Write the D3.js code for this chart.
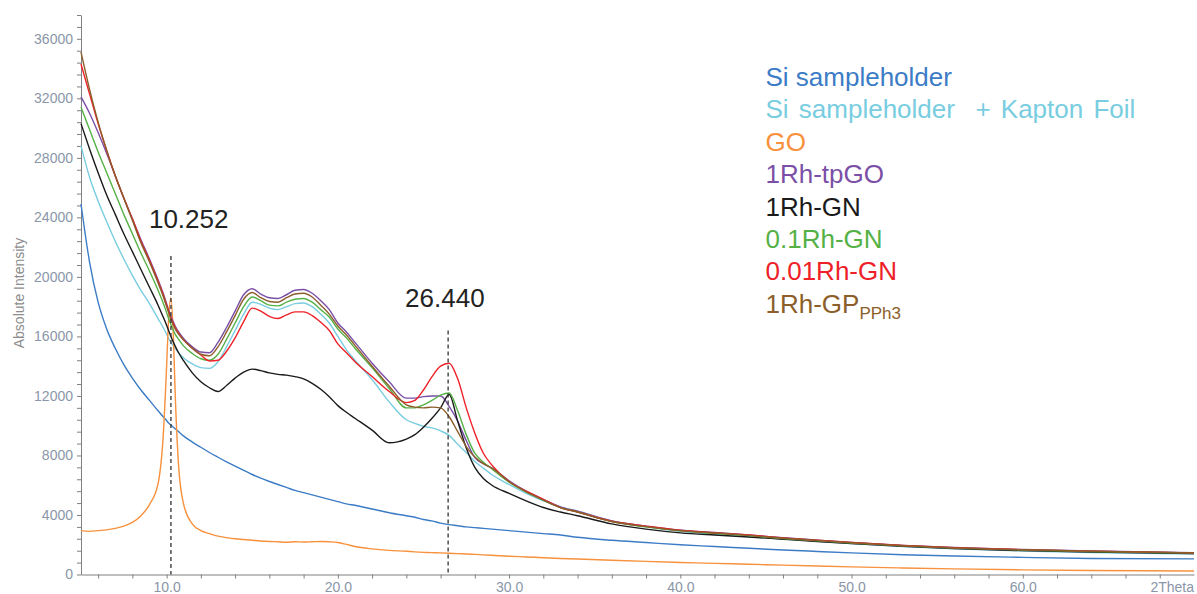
<!DOCTYPE html>
<html>
<head>
<meta charset="utf-8">
<script src="https://cdn.jsdelivr.net/npm/d3@7"></script>
<style>
  body { margin: 0; background: #fff; }
  svg { display: block; font-family: "Liberation Sans", Arial, sans-serif; }
</style>
</head>
<body>
<div id="my_dataviz"></div>
<script>
const twoTheta = [5, 5.5, 6, 6.5, 7, 7.5, 8, 8.5, 9, 9.5,
  9.8, 10, 10.1, 10.25, 10.4, 10.5, 10.7, 11, 11.5, 12,
  12.5, 13, 13.5, 14, 14.5, 15, 15.5, 16, 16.5, 17,
  17.5, 18, 18.5, 19, 19.5, 20, 20.5, 21, 22, 23,
  24, 24.5, 25, 25.5, 26, 26.5, 27, 27.5, 28, 28.5,
  29, 30, 31, 32, 33, 34, 36, 38, 40, 42,
  44, 46, 48, 50, 53, 56, 60, 64, 70];

const siHolder = [24900, 21000, 18300, 16500, 15200, 14100, 13200, 12400, 11700, 11000,
  10600, 10350, 10200, 10050, 9900, 9800, 9600, 9300, 8900, 8550,
  8200, 7880, 7570, 7280, 7000, 6720, 6470, 6250, 6050, 5850,
  5650, 5500, 5350, 5200, 5050, 4900, 4750, 4650, 4400, 4150,
  3950, 3850, 3700, 3600, 3450, 3350, 3280, 3200, 3150, 3100,
  3050, 2950, 2850, 2750, 2650, 2500, 2300, 2150, 2000, 1880,
  1760, 1650, 1550, 1450, 1330, 1240, 1150, 1080, 1050];

const siKapton = [28800, 26700, 25100, 23700, 22400, 21200, 20100, 19100, 18200, 17200,
  16600, 16150, 15900, 15600, 15350, 15200, 14900, 14550, 14150, 13900,
  13850, 14300, 15300, 16400, 17500, 18300, 18150, 17900, 17800, 18000,
  18200, 18250, 18000, 17500, 16900, 16000, 15100, 14400, 13100, 11600,
  10400, 10150, 9950, 9850, 9650, 9350, 8750, 8200, 7600, 7150,
  6700, 6050, 5450, 4950, 4550, 4250, 3600, 3200, 2900, 2700,
  2550, 2380, 2230, 2080, 1880, 1720, 1580, 1470, 1370];

const go = [2950, 2900, 2950, 3000, 3100, 3250, 3500, 3950, 4700, 6100,
  9300, 14000, 16800, 18600, 15800, 12200, 7300, 4700, 3400, 2950,
  2750, 2580, 2480, 2400, 2350, 2300, 2250, 2220, 2200, 2170,
  2200, 2180, 2200, 2220, 2200, 2150, 2020, 1880, 1720, 1620,
  1560, 1520, 1490, 1470, 1450, 1430, 1400, 1380, 1350, 1320,
  1290, 1230, 1180, 1130, 1080, 1040, 960, 880, 810, 750,
  690, 630, 570, 510, 440, 380, 310, 270, 240];

const rhTpGO = [32100, 31000, 29700, 28300, 26800, 25300, 23900, 22500, 21200, 19800,
  18900, 18200, 17850, 17350, 16950, 16700, 16300, 15850, 15300, 14950,
  14900, 15600, 16600, 17700, 18800, 19200, 18850, 18600, 18550, 18800,
  19100, 19150, 18900, 18400, 17800, 16900, 16300, 15600, 14200, 12950,
  11850, 11850, 11950, 12000, 12000, 11300, 10300, 9000, 7850, 7450,
  7150, 6300, 5600, 5050, 4550, 4250, 3600, 3250, 2980, 2820,
  2660, 2470, 2310, 2160, 1960, 1810, 1680, 1580, 1460];

const rhGN = [30300, 28600, 27000, 25500, 24200, 22900, 21700, 20500, 19300, 18100,
  17300, 16750, 16450, 16000, 15600, 15350, 14900, 14350, 13550, 12950,
  12550, 12300, 12700, 13200, 13600, 13800, 13700, 13550, 13450, 13400,
  13300, 13150, 12850, 12450, 11950, 11350, 10900, 10500, 9700, 8850,
  9100, 9400, 9900, 10500, 11200, 12100, 10300, 8500, 7200, 6450,
  6000, 5450, 4950, 4500, 4200, 3950, 3400, 3050, 2800, 2650,
  2520, 2370, 2220, 2080, 1890, 1740, 1610, 1510, 1400];

const rh01GN = [31400, 29900, 28400, 27000, 25600, 24200, 22900, 21600, 20400, 19100,
  18250, 17600, 17250, 16800, 16400, 16150, 15800, 15350, 14850, 14500,
  14400, 14800, 15800, 16900, 18000, 18650, 18400, 18100, 18050, 18300,
  18500, 18550, 18300, 17800, 17300, 16500, 15900, 15200, 13900, 12500,
  11200, 11200, 11400, 11700, 12050, 12200, 11000, 9400, 8150, 7550,
  7100, 6200, 5550, 5000, 4500, 4200, 3550, 3200, 2930, 2770,
  2610, 2420, 2270, 2120, 1930, 1780, 1650, 1550, 1440];

const rh001GN = [34300, 32300, 30300, 28500, 26800, 25300, 23900, 22400, 21100, 19700,
  18800, 18100, 17750, 17250, 16850, 16600, 16200, 15750, 15200, 14750,
  14350, 14400, 15000, 15900, 17000, 17900, 17700, 17350, 17200, 17450,
  17650, 17650, 17400, 16950, 16400, 15500, 14900, 14300, 13300, 12300,
  11550, 11700, 12400, 13300, 14000, 14200, 13150, 11200, 9500, 8150,
  7350, 6250, 5600, 5050, 4500, 4200, 3580, 3250, 2970, 2810,
  2650, 2460, 2300, 2150, 1950, 1800, 1670, 1570, 1450];

const rhGP = [35100, 32600, 30400, 28500, 26800, 25300, 23800, 22300, 21000, 19600,
  18700, 18000, 17650, 17150, 16750, 16500, 16150, 15750, 15200, 14800,
  14700, 15300, 16300, 17400, 18500, 18950, 18600, 18350, 18300, 18600,
  18850, 18900, 18650, 18100, 17500, 16700, 16100, 15400, 14000, 12650,
  11400, 11250, 11200, 11250, 11200, 10600, 9600, 8600, 7900, 7450,
  7150, 6250, 5550, 5000, 4500, 4200, 3560, 3220, 2950, 2790,
  2630, 2440, 2290, 2140, 1940, 1790, 1660, 1560, 1450];

const seriesNames = ["Si sampleholder", "Si sampleholder  + Kapton Foil", "GO", "1Rh-tpGO",
  "1Rh-GN", "0.1Rh-GN", "0.01Rh-GN", "1Rh-GP"];
const seriesSubs = ["", "", "", "", "", "", "", "PPh3"];
const seriesColors = ["#3c7cc6", "#78cde0", "#f7913d", "#7b4fa6",
  "#1a1a1a", "#55b146", "#ee2028", "#8c5e2a"];
const seriesValues = [siHolder, siKapton, go, rhTpGO, rhGN, rh01GN, rh001GN, rhGP];

const peakPositions = [10.252, 26.440];
const peakLabels = ["10.252", "26.440"];
const peakLineTop = [21400, 16400];
const peakLabelLevel = [23300, 17950];

const xTicks = d3.range(6, 69, 2);
const yTicks = d3.range(0, 37601, 800);

// set the dimensions and margins of the graph
const margin = {top: 15, right: 3, bottom: 19.5, left: 81},
    width = 1197 - margin.left - margin.right,
    height = 594 - margin.top - margin.bottom;

const svg = d3.select("#my_dataviz")
  .append("svg")
    .attr("width", width + margin.left + margin.right)
    .attr("height", height + margin.top + margin.bottom)
  .append("g")
    .attr("transform", `translate(${margin.left},${margin.top})`);

const x = d3.scaleLinear().domain([5, 70]).range([0, width]);
const y = d3.scaleLinear().domain([0, 37600]).range([height, 0]);

const axisGrey = "#808080", labelGrey = "#8a96a8";

// X axis
const xAxis = svg.append("g")
    .attr("transform", `translate(0, ${height})`)
    .call(d3.axisBottom(x)
      .tickValues(xTicks)
      .tickSize(4)
      .tickSizeOuter(0)
      .tickPadding(4)
      .tickFormat(d => (d % 10 === 0 && d <= 60) ? d3.format(".1f")(d) : ""));
xAxis.select(".domain").attr("stroke", axisGrey);
xAxis.selectAll(".tick line").attr("stroke", axisGrey);
xAxis.selectAll(".tick text")
    .attr("fill", labelGrey)
    .style("font-size", "14px")
    .style("font-family", "'Liberation Sans', Arial, sans-serif");
xAxis.append("text")
    .attr("x", width)
    .attr("y", 8)
    .attr("dy", "0.71em")
    .attr("text-anchor", "end")
    .attr("fill", labelGrey)
    .style("font-size", "14px")
    .text("2Theta");

// Y axis
const yAxis = svg.append("g")
    .call(d3.axisLeft(y)
      .tickValues(yTicks)
      .tickSize(4)
      .tickSizeOuter(0)
      .tickPadding(4)
      .tickFormat(d => d % 4000 === 0 ? d : ""));
yAxis.select(".domain").attr("stroke", axisGrey);
yAxis.selectAll(".tick line").attr("stroke", axisGrey);
yAxis.selectAll(".tick text")
    .attr("fill", labelGrey)
    .style("font-size", "14px")
    .style("font-family", "'Liberation Sans', Arial, sans-serif");

svg.append("text")
    .attr("transform", `translate(${19 - margin.left}, ${293 - margin.top}) rotate(-90)`)
    .attr("text-anchor", "middle")
    .attr("dominant-baseline", "central")
    .attr("fill", "#8c8c8c")
    .style("font-size", "14px")
    .text("Absolute Intensity");

// curves
const line = d3.line()
    .x((d, i) => x(twoTheta[i]))
    .y(d => y(d))
    .curve(d3.curveMonotoneX);

svg.selectAll(".curve")
    .data(seriesValues)
    .join("path")
    .attr("class", "curve")
    .attr("fill", "none")
    .attr("stroke", (d, i) => seriesColors[i])
    .attr("stroke-width", 1.4)
    .attr("stroke-linejoin", "round")
    .attr("d", line);

// peak markers
svg.selectAll(".peak")
    .data(peakPositions)
    .join("line")
    .attr("class", "peak")
    .attr("x1", d => x(d))
    .attr("x2", d => x(d))
    .attr("y1", (d, i) => y(peakLineTop[i]))
    .attr("y2", height)
    .attr("stroke", "#333")
    .attr("stroke-width", 1.3)
    .attr("stroke-dasharray", "4,3");

const peakDx = [-22, -43];
svg.selectAll(".peak-label")
    .data(peakPositions)
    .join("text")
    .attr("class", "peak-label")
    .attr("x", (d, i) => x(d) + peakDx[i])
    .attr("y", (d, i) => y(peakLabelLevel[i]))
    .attr("fill", "#222")
    .style("font-size", "26px")
    .text((d, i) => peakLabels[i]);

// legend
const legend = svg.append("g")
    .attr("transform", `translate(${765.5 - margin.left}, ${86 - margin.top})`);

const items = legend.selectAll("text")
    .data(seriesNames)
    .join("text")
    .attr("x", 0)
    .attr("y", (d, i) => i * 32.4)
    .attr("fill", (d, i) => seriesColors[i])
    .style("font-size", "26px")
    .style("white-space", "pre")
    .style("word-spacing", (d, i) => i === 1 ? "3px" : null)
    .attr("xml:space", "preserve");

items.append("tspan").text(d => d);
items.filter((d, i) => seriesSubs[i] !== "")
    .append("tspan")
    .attr("dy", 6)
    .style("font-size", "17px")
    .text(d => seriesSubs[seriesNames.indexOf(d)]);
</script>
</body>
</html>
